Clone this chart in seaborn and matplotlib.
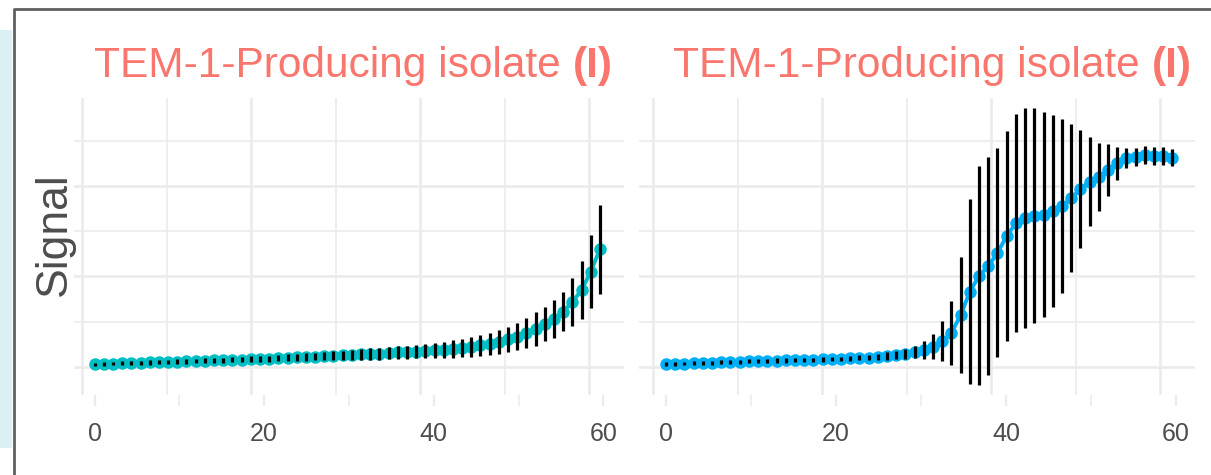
import numpy as np
import pandas as pd
import matplotlib
matplotlib.use("Agg")
import matplotlib.pyplot as plt
import seaborn as sns
from matplotlib.patches import Rectangle
from matplotlib.lines import Line2D
from matplotlib.ticker import MultipleLocator

# sampling times (min), one reading every 65 s
time_min = [0.00, 1.08, 2.17, 3.25, 4.33, 5.42, 6.50, 7.58, 8.67, 9.75,
            10.83, 11.92, 13.00, 14.08, 15.17, 16.25, 17.33, 18.42, 19.50, 20.58,
            21.67, 22.75, 23.83, 24.92, 26.00, 27.08, 28.17, 29.25, 30.33, 31.42,
            32.50, 33.58, 34.67, 35.75, 36.83, 37.92, 39.00, 40.08, 41.17, 42.25,
            43.33, 44.42, 45.50, 46.58, 47.67, 48.75, 49.83, 50.92, 52.00, 53.08,
            54.17, 55.25, 56.33, 57.42, 58.50, 59.58]

left_mean = [0.015, 0.017, 0.018, 0.020, 0.022, 0.023, 0.025, 0.027, 0.028, 0.030,
             0.031, 0.033, 0.035, 0.036, 0.038, 0.040, 0.041, 0.043, 0.045, 0.046,
             0.049, 0.051, 0.053, 0.055, 0.057, 0.060, 0.062, 0.064, 0.066, 0.069,
             0.071, 0.074, 0.077, 0.080, 0.082, 0.085, 0.088, 0.091, 0.094, 0.099,
             0.105, 0.112, 0.120, 0.127, 0.138, 0.153, 0.167, 0.186, 0.208, 0.236,
             0.265, 0.306, 0.359, 0.425, 0.527, 0.650]
left_sd = [0.008, 0.010, 0.010, 0.011, 0.011, 0.011, 0.012, 0.012, 0.012, 0.013,
           0.013, 0.013, 0.014, 0.014, 0.014, 0.015, 0.015, 0.016, 0.016, 0.017,
           0.017, 0.018, 0.019, 0.020, 0.021, 0.022, 0.024, 0.026, 0.028, 0.030,
           0.031, 0.033, 0.034, 0.035, 0.036, 0.037, 0.039, 0.041, 0.046, 0.049,
           0.049, 0.055, 0.057, 0.060, 0.066, 0.069, 0.076, 0.083, 0.094, 0.095,
           0.105, 0.110, 0.133, 0.160, 0.203, 0.246]

right_mean = [0.015, 0.017, 0.019, 0.020, 0.022, 0.024, 0.026, 0.028, 0.029, 0.031,
              0.033, 0.034, 0.035, 0.036, 0.037, 0.039, 0.040, 0.042, 0.044, 0.045,
              0.048, 0.050, 0.052, 0.055, 0.060, 0.065, 0.072, 0.081, 0.094, 0.112,
              0.144, 0.188, 0.287, 0.416, 0.503, 0.558, 0.630, 0.724, 0.794, 0.823,
              0.836, 0.841, 0.862, 0.890, 0.931, 0.983, 1.024, 1.051, 1.088, 1.125,
              1.153, 1.162, 1.169, 1.166, 1.166, 1.157]
right_sd = [0.011, 0.011, 0.011, 0.011, 0.011, 0.011, 0.011, 0.011, 0.011, 0.011,
            0.012, 0.012, 0.012, 0.012, 0.012, 0.012, 0.012, 0.012, 0.012, 0.012,
            0.013, 0.014, 0.016, 0.018, 0.020, 0.022, 0.028, 0.033, 0.050, 0.069,
            0.110, 0.177, 0.320, 0.511, 0.605, 0.602, 0.577, 0.580, 0.601, 0.608,
            0.594, 0.566, 0.530, 0.479, 0.409, 0.326, 0.246, 0.188, 0.143, 0.091,
            0.055, 0.050, 0.050, 0.050, 0.050, 0.048]

x_ticks = [0, 20, 40, 60]
x_minor_ticks = [10, 30, 50]
title_text = "TEM-1-Producing isolate"
title_tag = "(I)"
y_label = "Signal"

W, H = 1211, 475
TITLE_COLOR = "#F8766D"
GRID = "#ebebeb"
TEXT = "#4d4d4d"

sns.set_style("white")
plt.rcParams["font.family"] = ["Liberation Sans", "DejaVu Sans"]

fig = plt.figure(figsize=(W / 100, H / 100), dpi=100)


def px_box(left, top, right, bottom):
    return [left / W, 1 - bottom / H, (right - left) / W, (bottom - top) / H]


def draw_panel(box, xlim, grid_xlim, mean, sd, color, title_x):
    ax = fig.add_axes(box)
    grid_ax = ax.twiny()

    # vertical grid lives on a twin axis (it is offset from the tick axis)
    grid_ax.set_xlim(grid_xlim)
    grid_ax.xaxis.set_major_locator(MultipleLocator(20))
    grid_ax.xaxis.set_minor_locator(MultipleLocator(10))
    grid_ax.grid(which="major", axis="x", color=GRID, lw=1.9)
    grid_ax.grid(which="minor", axis="x", color=GRID, lw=1.2)
    grid_ax.tick_params(which="both", top=False, labeltop=False, length=0)
    for s in grid_ax.spines.values():
        s.set_visible(False)
    ax.set_zorder(2)
    grid_ax.set_zorder(1)
    ax.patch.set_visible(False)

    df = pd.DataFrame({"time": time_min, "mean": mean, "sd": sd})
    sns.lineplot(data=df, x="time", y="mean", ax=ax, color=color, lw=2.8,
                 marker="o", markersize=9, markeredgewidth=0, errorbar=None)
    ax.vlines(df["time"], df["mean"] - df["sd"], df["mean"] + df["sd"],
              colors="black", lw=2.3, zorder=4)

    ax.set_xlim(xlim)
    ax.set_ylim(-0.155, 1.486)
    ax.yaxis.set_major_locator(MultipleLocator(0.5))
    ax.yaxis.set_minor_locator(MultipleLocator(0.25))
    ax.grid(which="major", axis="y", color=GRID, lw=1.9)
    ax.grid(which="minor", axis="y", color=GRID, lw=1.2)
    ax.tick_params(axis="y", which="both", left=False, labelleft=False)

    ax.set_xticks(x_ticks)
    ax.set_xticks(x_minor_ticks, minor=True)
    ax.tick_params(axis="x", which="major", bottom=True, length=7.9, width=1.6,
                   color=GRID, pad=11.2, labelsize=18, labelcolor=TEXT)
    ax.tick_params(axis="x", which="minor", bottom=True, length=7.9, width=1.1,
                   color=GRID)
    ax.set_xlabel("")
    ax.set_ylabel("")
    for s in ax.spines.values():
        s.set_visible(False)

    t = fig.text(title_x / W, 1 - 77 / H, title_text, fontsize=30.5,
                 color=TITLE_COLOR, ha="left", va="baseline")
    ax.annotate(title_tag, xy=(1, 0), xycoords=t, xytext=(8.5, 0),
                textcoords="offset points", ha="left", va="bottom",
                fontsize=30.5, fontweight="bold", color=TITLE_COLOR,
                annotation_clip=False)
    return ax


draw_panel(px_box(74, 98, 624, 395), (-2.42, 62.42), (-0.95, 64.14),
           left_mean, left_sd, "#00BFC4", 94)
draw_panel(px_box(639, 98, 1195, 395), (-3.18, 62.24), (-1.66, 64.14),
           right_mean, right_sd, "#00B0F6", 673)

fig.text(54.5 / W, 1 - 234 / H, y_label, rotation=90, ha="center",
         va="center", fontsize=32, color=TEXT)

# page decoration: light blue strip and the grey frame
fig.patches.append(Rectangle((0, 1 - 448 / H), 12 / W, (448 - 30) / H,
                             transform=fig.transFigure, facecolor="#daf0f5",
                             edgecolor="none", zorder=0))
fig.add_artist(Line2D([13.7 / W, 13.7 / W, 1.0], [0.0, 1 - 8.5 / H, 1 - 8.5 / H],
                      transform=fig.transFigure, color="#606060", lw=2.0))

fig.savefig("out.png", dpi=100)
